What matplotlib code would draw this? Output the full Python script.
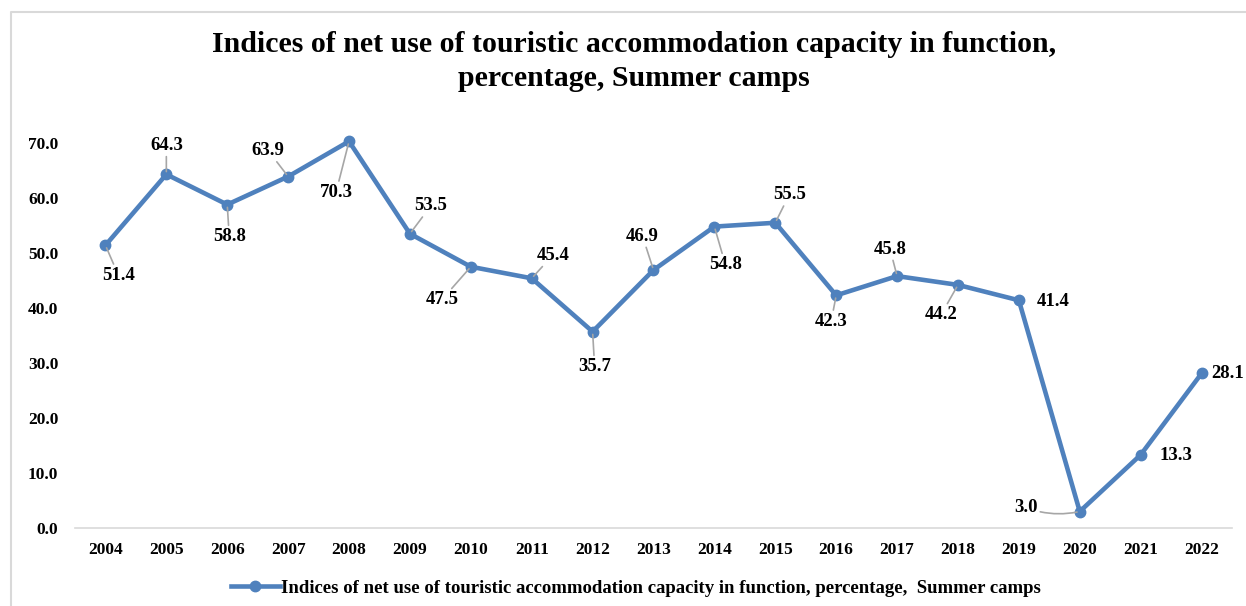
import matplotlib
matplotlib.use("Agg")
import matplotlib.pyplot as plt
from matplotlib.lines import Line2D

years = ["2004", "2005", "2006", "2007", "2008", "2009", "2010", "2011", "2012", "2013",
         "2014", "2015", "2016", "2017", "2018", "2019", "2020", "2021", "2022"]
values = [51.4, 64.3, 58.8, 63.9, 70.3, 53.5, 47.5, 45.4, 35.7, 46.9,
          54.8, 55.5, 42.3, 45.8, 44.2, 41.4, 3.0, 13.3, 28.1]
yticks = [0, 10, 20, 30, 40, 50, 60, 70]

title = "Indices of net use of touristic accommodation capacity in function,\npercentage, Summer camps"
series_name = "Indices of net use of touristic accommodation capacity in function, percentage,  Summer camps"

# label offsets in pixels (dx, dy screen; dy positive = up)
offsets = [(13, -30), (0, 29), (2, -32), (-20, 26), (-13, -51), (21, 28), (-29, -33),
           (21, 23), (2, -35), (-11, 34), (11, -38), (14, 28), (-5, -26), (-7, 27),
           (-17, -30), (34, -1), (-54, 4), (35, -1), (26, 0)]
leader = [True] * 19
leader[15] = leader[17] = leader[18] = False

serif = ["Liberation Serif", "DejaVu Serif"]
plt.rcParams['font.family'] = serif
plt.rcParams['font.weight'] = 'bold'

W, H = 1246, 606
fig = plt.figure(figsize=(W / 100, H / 100), dpi=100)
ax = fig.add_axes([75 / W, 1 - 528 / H, (1232 - 75) / W, (528 - 143) / H])

color = "#4f81bd"
x = list(range(len(years)))
ax.plot(x, values, color=color, lw=3.3, marker='o', markersize=7.5, clip_on=False, zorder=3)

ax.set_xlim(-0.5, len(years) - 0.5)
ax.set_ylim(0, 70)
ax.set_yticks(yticks)
ax.set_yticklabels([f"{v:.1f}" for v in yticks])
ax.set_xticks(x)
ax.set_xticklabels(years)
ax.tick_params(length=0, labelsize=12.5)
ax.tick_params(axis='y', pad=12)
ax.tick_params(axis='x', pad=10)
for lab in ax.get_xticklabels() + ax.get_yticklabels():
    lab.set_fontweight('bold')
for s in ['left', 'right', 'top']:
    ax.spines[s].set_visible(False)
ax.spines['bottom'].set_color('#d9d9d9')
ax.spines['bottom'].set_linewidth(1.2)

for i, (xv, yv) in enumerate(zip(x, values)):
    dx, dy = offsets[i]
    ap = None
    if leader[i]:
        cs = "arc3,rad=0.15" if i == 16 else "arc3"
        ap = dict(arrowstyle='-', color='#a6a6a6', lw=1.2, shrinkA=0, shrinkB=2,
                  connectionstyle=cs)
    ax.annotate(f"{yv:.1f}", (xv, yv), xytext=(dx, dy), textcoords='offset pixels',
                ha='center', va='center', fontsize=13.5, fontweight='bold',
                arrowprops=ap, annotation_clip=False, zorder=4)

fig.text(634 / W, 1 - 61.5 / H, title, ha='center', va='center', fontsize=21.5,
         fontweight='bold', linespacing=1.3)

handle = Line2D([], [], color=color, lw=3.3, marker='o', markersize=7.5)
fig.legend([handle], [series_name], loc='center', bbox_to_anchor=(636 / W, 1 - 588 / H),
           frameon=False, prop=dict(family=serif, weight='bold', size=13.5),
           handlelength=2.6, handletextpad=0.1)

# figure border (left and top)
fig.add_artist(Line2D([11 / W, 11 / W, 1.0], [0.0, 1 - 12 / H, 1 - 12 / H],
                      transform=fig.transFigure, color='#d9d9d9', lw=1.5))

fig.savefig("out.png", dpi=100)
